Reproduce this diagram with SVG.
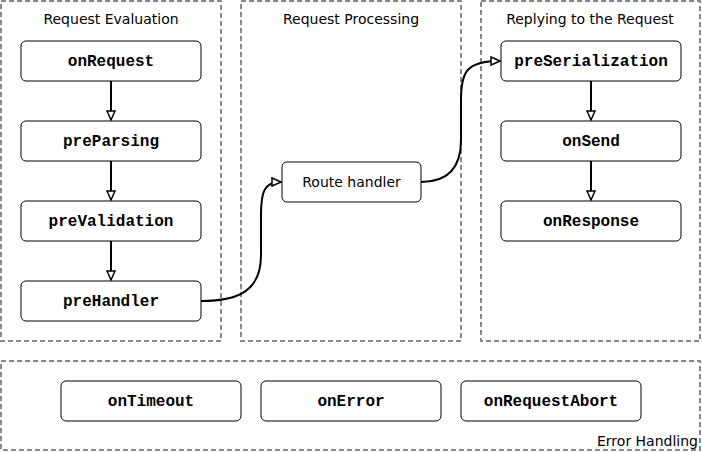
<svg xmlns="http://www.w3.org/2000/svg" width="702" height="452" viewBox="0 0 702 452">
<style>
.cl{fill:none;stroke:#888;stroke-width:2;stroke-dasharray:5,3}
.cll{font-family:"DejaVu Sans",sans-serif;font-size:14px;fill:#000;text-anchor:middle}
.nd{fill:#fff;stroke:#000;stroke-width:1}
.nt{font-family:"Liberation Mono",monospace;font-weight:bold;font-size:16px;fill:#000;text-anchor:middle}
.rt{font-family:"DejaVu Sans",sans-serif;font-size:14px;fill:#000;text-anchor:middle}
.ed{fill:none;stroke:#000;stroke-width:2}
</style>
<defs>
<marker id="ah" markerUnits="userSpaceOnUse" markerWidth="12" markerHeight="12" refX="10" refY="5" orient="auto" viewBox="0 0 12 10">
<path d="M1,1 L10,5 L1,9 z" fill="#fff" stroke="#000" stroke-width="1.5"/>
</marker>
</defs>
<rect width="702" height="452" fill="#fff"/>
<g id="clusters">
<g id="cluster-eval"><rect class="cl" x="1" y="1" width="220" height="340"/><text class="cll" x="111" y="24">Request Evaluation</text></g>
<g id="cluster-proc"><rect class="cl" x="241" y="1" width="220" height="340"/><text class="cll" x="351" y="24">Request Processing</text></g>
<g id="cluster-reply"><rect class="cl" x="481" y="1" width="219" height="340"/><text class="cll" x="590" y="24">Replying to the Request</text></g>
<g id="cluster-error"><rect class="cl" x="1" y="361" width="699" height="89"/><text class="cll" x="698" y="446" style="text-anchor:end">Error Handling</text></g>
</g>
<g id="connectors">
<path class="ed" d="M111,81 L111,120" marker-end="url(#ah)"/>
<path class="ed" d="M111,161 L111,200" marker-end="url(#ah)"/>
<path class="ed" d="M111,241 L111,280" marker-end="url(#ah)"/>
<path class="ed" d="M201,301 C240,301 261,290 261,255 L261,215 C261,192 264,182 281,182" marker-end="url(#ah)"/>
<path class="ed" d="M421,182 C446,182 461,170 461,140 L461,100 C461,72 466,61 500,61" marker-end="url(#ah)"/>
<path class="ed" d="M591,81 L591,120" marker-end="url(#ah)"/>
<path class="ed" d="M591,161 L591,200" marker-end="url(#ah)"/>
</g>
<g id="onRequest"><rect class="nd" x="21" y="41" width="180" height="40" rx="5"/><text class="nt" x="111" y="66">onRequest</text></g>
<g id="preParsing"><rect class="nd" x="21" y="121" width="180" height="40" rx="5"/><text class="nt" x="111" y="146">preParsing</text></g>
<g id="preValidation"><rect class="nd" x="21" y="201" width="180" height="40" rx="5"/><text class="nt" x="111" y="226">preValidation</text></g>
<g id="preHandler"><rect class="nd" x="21" y="281" width="180" height="40" rx="5"/><text class="nt" x="111" y="306">preHandler</text></g>
<g id="routeHandler"><rect class="nd" x="282" y="162" width="139" height="40" rx="5"/><text class="rt" x="351.5" y="187">Route handler</text></g>
<g id="preSerialization"><rect class="nd" x="501" y="41" width="180" height="40" rx="5"/><text class="nt" x="591" y="66">preSerialization</text></g>
<g id="onSend"><rect class="nd" x="501" y="121" width="180" height="40" rx="5"/><text class="nt" x="591" y="146">onSend</text></g>
<g id="onResponse"><rect class="nd" x="501" y="201" width="180" height="40" rx="5"/><text class="nt" x="591" y="226">onResponse</text></g>
<g id="onTimeout"><rect class="nd" x="61" y="381" width="180" height="40" rx="5"/><text class="nt" x="151" y="406">onTimeout</text></g>
<g id="onError"><rect class="nd" x="261" y="381" width="180" height="40" rx="5"/><text class="nt" x="351" y="406">onError</text></g>
<g id="onRequestAbort"><rect class="nd" x="461" y="381" width="180" height="40" rx="5"/><text class="nt" x="551" y="406">onRequestAbort</text></g>
</svg>
